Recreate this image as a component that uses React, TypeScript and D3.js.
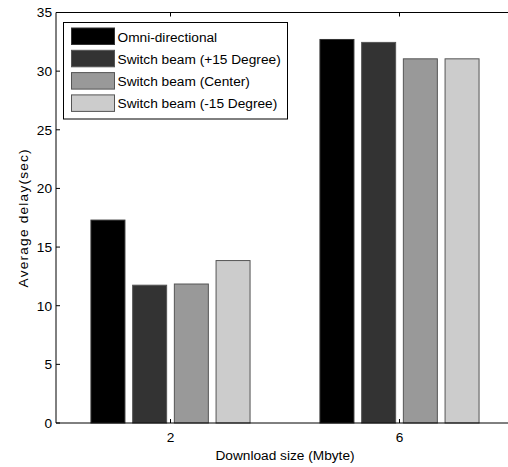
import { useRef, useEffect } from "react";
import * as d3 from "d3";

// data
const sizes = [2, 6];
const seriesNames = [
  "Omni-directional",
  "Switch beam (+15 Degree)",
  "Switch beam (Center)",
  "Switch beam (-15 Degree)",
];
const omni = [17.3, 32.7];
const plus15 = [11.75, 32.45];
const center = [11.85, 31.05];
const minus15 = [13.85, 31.05];
const seriesColors = ["#000000", "#333333", "#999999", "#cccccc"];
const yTicks = [0, 5, 10, 15, 20, 25, 30, 35];

export default function App() {
  const svgRef = useRef<SVGSVGElement>(null);

  useEffect(() => {
    document.body.style.margin = "0";

    const width = 508;
    const height = 467;
    const font = "'Liberation Sans', Arial, Helvetica, sans-serif";
    const fs = "13.7px";

    const svg = d3.select(svgRef.current)
      .attr("width", width)
      .attr("height", height)
      .style("display", "block")
      .style("background", "#fff");
    svg.selectAll("*").remove();

    const left = 56;
    const top = 12.5;
    const bottom = 423;

    const x = d3.scaleLinear().domain([0, 8]).range([left, 514]);
    const y = d3.scaleLinear().domain([0, 35]).range([bottom, top]);

    const allSeries = [omni, plus15, center, minus15];
    const groupWidth = 2.914; // in x units
    const inner = d3.scaleBand<number>()
      .domain(d3.range(allSeries.length))
      .range([-(x(groupWidth) - x(0)) / 2, (x(groupWidth) - x(0)) / 2])
      .paddingInner(0.185)
      .paddingOuter(0.0925);

    // bars
    allSeries.forEach((vals, si) => {
      svg.append("g")
        .selectAll("rect")
        .data(vals)
        .join("rect")
        .attr("x", (d, i) => x(sizes[i]) + inner(si)!)
        .attr("width", inner.bandwidth())
        .attr("y", d => y(d))
        .attr("height", d => y(0) - y(d))
        .attr("fill", seriesColors[si])
        .attr("stroke", si === 0 ? "#333" : "#555")
        .attr("stroke-width", 1);
    });

    // frame
    svg.append("line")
      .attr("x1", left).attr("x2", width).attr("y1", top).attr("y2", top)
      .attr("stroke", "#000");
    svg.append("line")
      .attr("x1", left).attr("x2", width).attr("y1", bottom).attr("y2", bottom)
      .attr("stroke", "#000");
    svg.append("line")
      .attr("x1", left).attr("x2", left).attr("y1", top).attr("y2", bottom)
      .attr("stroke", "#000");

    // y ticks
    const yg = svg.append("g");
    yg.selectAll("line")
      .data(yTicks)
      .join("line")
      .attr("x1", left).attr("x2", left + 4)
      .attr("y1", d => y(d)).attr("y2", d => y(d))
      .attr("stroke", "#000");
    yg.selectAll("text")
      .data(yTicks)
      .join("text")
      .attr("x", left - 4)
      .attr("y", d => y(d))
      .attr("dy", "0.36em")
      .attr("text-anchor", "end")
      .style("font-family", font)
      .style("font-size", fs)
      .text(d => d);

    // x ticks
    const xg = svg.append("g");
    xg.selectAll("line.b")
      .data(sizes)
      .join("line")
      .attr("class", "b")
      .attr("x1", d => x(d)).attr("x2", d => x(d))
      .attr("y1", bottom).attr("y2", bottom - 4)
      .attr("stroke", "#000");
    xg.selectAll("line.t")
      .data(sizes)
      .join("line")
      .attr("class", "t")
      .attr("x1", d => x(d)).attr("x2", d => x(d))
      .attr("y1", top).attr("y2", top + 4)
      .attr("stroke", "#000");
    xg.selectAll("text")
      .data(sizes)
      .join("text")
      .attr("x", d => x(d))
      .attr("y", bottom + 19)
      .attr("text-anchor", "middle")
      .style("font-family", font)
      .style("font-size", fs)
      .text(d => d);

    // axis labels
    svg.append("text")
      .attr("x", 285)
      .attr("y", 460)
      .attr("text-anchor", "middle")
      .style("font-family", font)
      .style("font-size", fs)
      .text("Download size (Mbyte)");
    svg.append("text")
      .attr("transform", `translate(28,${(top + bottom) / 2}) rotate(-90)`)
      .attr("text-anchor", "middle")
      .style("font-family", font)
      .style("font-size", fs)
      .style("letter-spacing", "1.2px")
      .text("Average delay(sec)");

    // legend
    const lg = svg.append("g");
    lg.append("rect")
      .attr("x", 63.5).attr("y", 22.5)
      .attr("width", 224).attr("height", 96.5)
      .attr("fill", "#fff")
      .attr("stroke", "#000");
    seriesNames.forEach((name, i) => {
      const ry = 28 + i * 22.3;
      lg.append("rect")
        .attr("x", 71.5).attr("y", ry)
        .attr("width", 43).attr("height", 16.5)
        .attr("fill", seriesColors[i])
        .attr("stroke", i === 0 ? "#333" : "#555");
      lg.append("text")
        .attr("x", 117.5)
        .attr("y", ry + 13.5)
        .style("font-family", font)
        .style("font-size", fs)
        .text(name);
    });
  }, []);

  return <svg ref={svgRef}></svg>;
}
